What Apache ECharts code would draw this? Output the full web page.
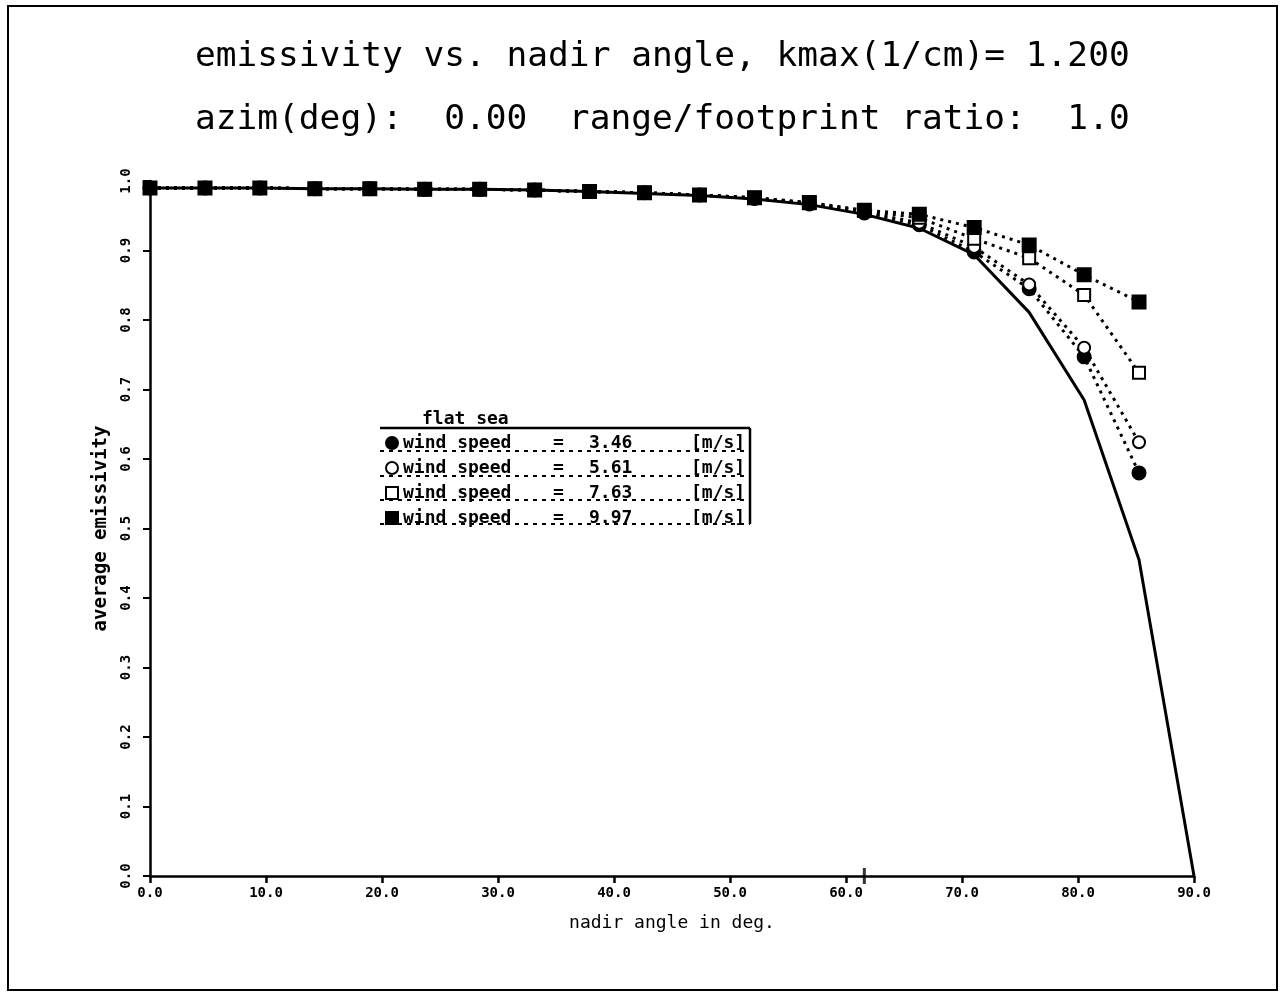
<!DOCTYPE html>
<html>
<head>
<meta charset="utf-8">
<script src="https://cdn.jsdelivr.net/npm/echarts@6/dist/echarts.min.js"></script>
<style>
html,body{margin:0;padding:0;background:#fff;}
#chart{width:1284px;height:998px;}
</style>
</head>
<body>
<div id="chart"></div>
<script>
// nadir angles (deg)
const angles = [0, 4.74, 9.47, 14.21, 18.95, 23.68, 28.42, 33.16, 37.89, 42.63, 47.37, 52.11, 56.84, 61.58, 66.32, 71.05, 75.79, 80.53, 85.26];
// flat sea (solid line), includes 90 deg end point
const flatAngles = [0, 4.74, 9.47, 14.21, 18.95, 23.68, 28.42, 33.16, 37.89, 42.63, 47.37, 52.11, 56.84, 61.58, 66.32, 71.05, 75.79, 80.53, 85.26, 90];
const flatSea = [0.990, 0.990, 0.990, 0.989, 0.989, 0.988, 0.988, 0.987, 0.985, 0.982, 0.979, 0.974, 0.966, 0.952, 0.932, 0.894, 0.811, 0.685, 0.455, 0.0];
// wind speed series
const ws346 = [0.990, 0.990, 0.990, 0.989, 0.989, 0.988, 0.988, 0.987, 0.985, 0.983, 0.980, 0.975, 0.967, 0.954, 0.937, 0.898, 0.845, 0.747, 0.580];
const ws561 = [0.990, 0.990, 0.990, 0.989, 0.989, 0.988, 0.988, 0.987, 0.985, 0.983, 0.980, 0.975, 0.968, 0.955, 0.940, 0.905, 0.851, 0.760, 0.624];
const ws763 = [0.990, 0.990, 0.990, 0.989, 0.989, 0.988, 0.988, 0.987, 0.985, 0.983, 0.980, 0.976, 0.968, 0.957, 0.947, 0.917, 0.889, 0.836, 0.724];
const ws997 = [0.990, 0.990, 0.990, 0.989, 0.989, 0.988, 0.988, 0.987, 0.985, 0.983, 0.980, 0.976, 0.969, 0.958, 0.952, 0.933, 0.908, 0.865, 0.826];
const windSpeeds = ['3.46', '5.61', '7.63', '9.97'];
const windSymbols = ['circle', 'emptyCircle', 'emptyRect', 'rect'];
const windData = [ws346, ws561, ws763, ws997];
// extra axis mark
const axisMark = [[61.58, 0]];
const xTicks = ['0.0','10.0','20.0','30.0','40.0','50.0','60.0','70.0','80.0','90.0'];

const chart = echarts.init(document.getElementById('chart'));
const pair = (xs, ys) => ys.map((v, i) => [xs[i], v]);
const MONO = 'DejaVu Sans Mono';

const series = [{
  name: 'flat sea',
  type: 'line',
  data: pair(flatAngles, flatSea),
  symbol: 'none',
  lineStyle: {color: '#000', width: 3},
  z: 2
}];
windData.forEach((d, i) => {
  series.push({
    name: 'ws' + windSpeeds[i],
    type: 'line',
    data: pair(angles, d),
    symbol: windSymbols[i],
    symbolSize: 12,
    showAllSymbol: true,
    lineStyle: {color: '#000', width: 3, type: [3, 5]},
    itemStyle: {color: '#000', borderColor: '#000', borderWidth: 3},
    z: 3 + i
  });
});
series.push({
  type: 'scatter',
  data: axisMark,
  symbol: 'rect',
  symbolSize: [3, 16],
  itemStyle: {color: '#000'},
  silent: true,
  z: 10
});

const legendRich = {
  a: {width: 150, fontFamily: MONO, fontWeight: 'bold', fontSize: 18},
  b: {width: 36, fontFamily: MONO, fontWeight: 'bold', fontSize: 18},
  c: {width: 102, fontFamily: MONO, fontWeight: 'bold', fontSize: 18},
  d: {width: 58, fontFamily: MONO, fontWeight: 'bold', fontSize: 18}
};

const option = {
  backgroundColor: '#fff',
  animation: false,
  title: [{
    text: 'emissivity vs. nadir angle, kmax(1/cm)= 1.200',
    left: 190, top: 35,
    textStyle: {fontFamily: MONO, fontWeight: 'normal', fontSize: 34.5, color: '#000'}
  }, {
    text: 'azim(deg):  0.00  range/footprint ratio:  1.0',
    left: 190, top: 98,
    textStyle: {fontFamily: MONO, fontWeight: 'normal', fontSize: 34.5, color: '#000'}
  }],
  legend: {
    data: windSpeeds.map((w, i) => ({name: 'ws' + w, icon: windSymbols[i]})),
    orient: 'vertical',
    left: 380, top: 428,
    itemWidth: 12, itemHeight: 12,
    itemGap: 5,
    selectedMode: false,
    formatter: name => '{a|wind speed}{b|=}{c|' + name.slice(2) + '}{d|[m/s]}',
    textStyle: {color: '#000', lineHeight: 20, rich: legendRich},
    itemStyle: {color: '#000', borderColor: '#000', borderWidth: 2}
  },
  grid: {left: 150, right: 90, top: 181, bottom: 122, containLabel: false},
  xAxis: {
    type: 'value', min: 0, max: 90, interval: 10,
    name: 'nadir angle in deg.', nameLocation: 'middle', nameGap: 38,
    nameTextStyle: {fontFamily: MONO, fontSize: 18, color: '#000'},
    axisLine: {lineStyle: {color: '#000', width: 2.5}},
    axisTick: {length: 7, lineStyle: {color: '#000', width: 2.5}},
    axisLabel: {color: '#000', fontFamily: MONO, fontWeight: 'bold', fontSize: 14, margin: 10,
      formatter: v => xTicks[Math.round(v / 10)]},
    splitLine: {show: false}
  },
  yAxis: {
    type: 'value', min: 0, max: 1.0, interval: 0.1,
    name: 'average emissivity', nameLocation: 'middle', nameGap: 39, nameRotate: 90,
    nameTextStyle: {fontFamily: MONO, fontSize: 19, fontWeight: 'bold', color: '#000'},
    axisLine: {lineStyle: {color: '#000', width: 2.5}},
    axisTick: {length: 7, lineStyle: {color: '#000', width: 2}},
    axisLabel: {color: '#000', fontFamily: MONO, fontWeight: 'bold', fontSize: 14, margin: 17, rotate: 90,
      formatter: v => v.toFixed(1)},
    splitLine: {show: false}
  },
  graphic: [
    {type: 'rect', shape: {x: 8, y: 6, width: 1269, height: 984}, style: {fill: 'none', stroke: '#000', lineWidth: 2}, silent: true},
    {type: 'text', left: 422, top: 410, style: {text: 'flat sea', fontFamily: MONO, fontWeight: 'bold', fontSize: 18, fill: '#000'}},
    {type: 'line', shape: {x1: 380, y1: 428, x2: 750, y2: 428}, style: {stroke: '#000', lineWidth: 2.5}},
    {type: 'line', shape: {x1: 380, y1: 451, x2: 750, y2: 451}, style: {stroke: '#000', lineWidth: 2, lineDash: [4, 5]}},
    {type: 'line', shape: {x1: 380, y1: 476, x2: 750, y2: 476}, style: {stroke: '#000', lineWidth: 2, lineDash: [4, 5]}},
    {type: 'line', shape: {x1: 380, y1: 500, x2: 750, y2: 500}, style: {stroke: '#000', lineWidth: 2, lineDash: [4, 5]}},
    {type: 'line', shape: {x1: 380, y1: 524, x2: 750, y2: 524}, style: {stroke: '#000', lineWidth: 2, lineDash: [4, 5]}},
    {type: 'line', shape: {x1: 750, y1: 428, x2: 750, y2: 524}, style: {stroke: '#000', lineWidth: 2.5}}
  ],
  series: series
};
chart.setOption(option);
</script>
</body>
</html>
